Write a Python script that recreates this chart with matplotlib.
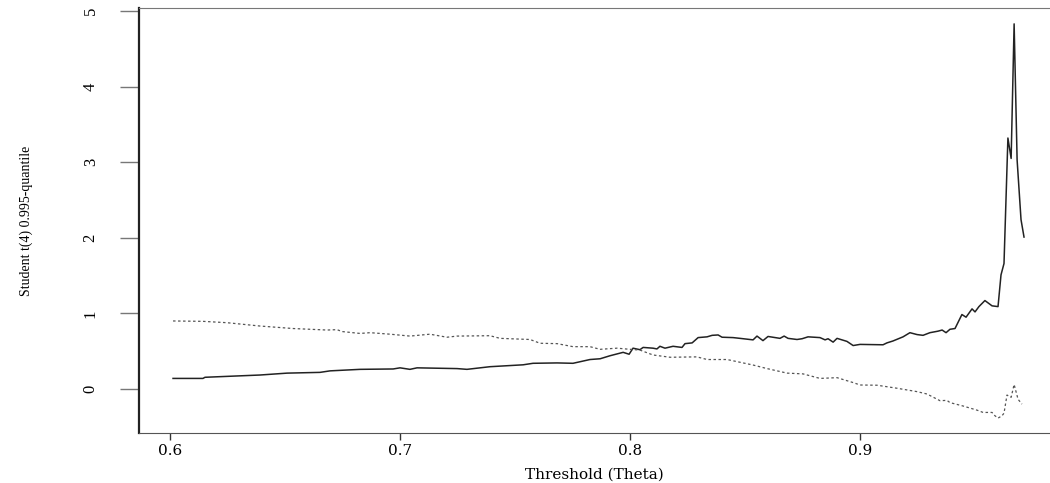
import numpy as np
import matplotlib
matplotlib.use("Agg")
import matplotlib.pyplot as plt

# umbral theta y cuantil 0.995 de la t de Student(4) estimado (linea continua)
theta_sup = [0.6013, 0.6143, 0.6152, 0.6391, 0.6509, 0.6652, 0.6696, 0.6826, 0.6970, 0.7000,
             0.7043, 0.7074, 0.7248, 0.7291, 0.7391, 0.7535, 0.7578, 0.7683, 0.7752, 0.7826,
             0.7870, 0.7913, 0.7970, 0.7996, 0.8013, 0.8043, 0.8057, 0.8100, 0.8117, 0.8130,
             0.8152, 0.8187, 0.8226, 0.8239, 0.8270, 0.8296, 0.8335, 0.8357, 0.8383, 0.8400,
             0.8448, 0.8478, 0.8535, 0.8552, 0.8578, 0.8600, 0.8652, 0.8670, 0.8687, 0.8726,
             0.8748, 0.8774, 0.8826, 0.8848, 0.8861, 0.8883, 0.8900, 0.8943, 0.8970, 0.9000,
             0.9100, 0.9117, 0.9143, 0.9187, 0.9217, 0.9248, 0.9274, 0.9304, 0.9339, 0.9357,
             0.9374, 0.9391, 0.9413, 0.9443, 0.9461, 0.9487, 0.9500, 0.9517, 0.9543, 0.9574,
             0.9600, 0.9613, 0.9626, 0.9643, 0.9657, 0.9670, 0.9683, 0.9700, 0.9713]
cuantil_sup = [0.14, 0.14, 0.155, 0.185, 0.21, 0.22, 0.24, 0.26, 0.265, 0.28,
               0.26, 0.28, 0.27, 0.26, 0.295, 0.32, 0.34, 0.345, 0.34, 0.39,
               0.40, 0.44, 0.485, 0.46, 0.54, 0.52, 0.55, 0.54, 0.53, 0.565,
               0.54, 0.565, 0.55, 0.60, 0.61, 0.68, 0.69, 0.71, 0.715, 0.685,
               0.68, 0.67, 0.65, 0.70, 0.64, 0.695, 0.67, 0.70, 0.67, 0.655,
               0.665, 0.69, 0.68, 0.65, 0.665, 0.62, 0.67, 0.63, 0.575, 0.59,
               0.585, 0.61, 0.635, 0.69, 0.745, 0.72, 0.71, 0.745, 0.765, 0.78,
               0.745, 0.79, 0.80, 0.985, 0.95, 1.06, 1.02, 1.09, 1.17, 1.10,
               1.09, 1.51, 1.66, 3.32, 3.05, 4.83, 3.03, 2.24, 2.01]

# segunda curva (linea punteada)
theta_inf = [0.6013, 0.6143, 0.6248, 0.6391, 0.6535, 0.6683, 0.6726, 0.6748, 0.6826, 0.6870,
             0.6957, 0.7043, 0.7130, 0.7204, 0.7248, 0.7391, 0.7435, 0.7565, 0.7609, 0.7683,
             0.7752, 0.7826, 0.7870, 0.7943, 0.8000, 0.8043, 0.8100, 0.8174, 0.8291, 0.8335,
             0.8422, 0.8535, 0.8596, 0.8683, 0.8752, 0.8826, 0.8900, 0.8970, 0.9000, 0.9074,
             0.9161, 0.9248, 0.9291, 0.9348, 0.9378, 0.9391, 0.9448, 0.9509, 0.9535, 0.9574,
             0.9583, 0.9600, 0.9617, 0.9626, 0.9639, 0.9657, 0.9670, 0.9687, 0.9704]
cuantil_inf = [0.90, 0.895, 0.877, 0.833, 0.80, 0.78, 0.785, 0.76, 0.735, 0.745,
               0.725, 0.70, 0.725, 0.685, 0.70, 0.705, 0.67, 0.655, 0.605, 0.60,
               0.56, 0.56, 0.525, 0.54, 0.525, 0.515, 0.45, 0.42, 0.425, 0.39,
               0.39, 0.317, 0.27, 0.21, 0.20, 0.14, 0.15, 0.085, 0.053, 0.05,
               0.01, -0.035, -0.066, -0.155, -0.15, -0.18, -0.225, -0.28, -0.31, -0.31,
               -0.345, -0.385, -0.355, -0.32, -0.08, -0.11, 0.06, -0.135, -0.20]

x_ticks = [0.6, 0.7, 0.8, 0.9]
y_ticks = [0, 1, 2, 3, 4, 5]

fig = plt.figure(figsize=(10.5, 4.83), dpi=100)
ax = fig.add_axes([139/1050, 1 - 433/483, 1 - 139/1050, 425/483])

ax.plot(theta_sup, cuantil_sup, color="#222222", linewidth=1.1)
ax.plot(theta_inf, cuantil_inf, color="#555555", linewidth=0.9, linestyle=(0, (2, 2)))

ax.set_xlim(0.5865, 0.9826)
ax.set_ylim(-0.582, 5.04)

# ejes estilo R: izquierda gruesa, sin borde derecho
ax.spines["right"].set_visible(False)
ax.spines["left"].set_color("#222222")
ax.spines["left"].set_linewidth(1.6)
ax.spines["bottom"].set_color("#555555")
ax.spines["top"].set_color("#777777")

ax.set_xticks(x_ticks)
ax.set_xticklabels(["0.6", "0.7", "0.8", "0.9"], family="DejaVu Serif", fontsize=11)
ax.tick_params(axis="x", direction="out", length=5, width=1, color="#333333", pad=3)

ax.set_yticks(y_ticks)
ax.set_yticklabels([str(v) for v in y_ticks], family="Liberation Serif", fontsize=12,
                   rotation=90, va="center")
ax.tick_params(axis="y", direction="out", length=14, width=1, color="#777777", pad=15)

ax.set_xlabel("Threshold (Theta)", family="DejaVu Serif", fontsize=11, labelpad=7)
ax.set_ylabel("Student t(4) 0.995-quantile", family="Liberation Serif", fontsize=10, labelpad=36)

fig.savefig("out.png", dpi=100)
